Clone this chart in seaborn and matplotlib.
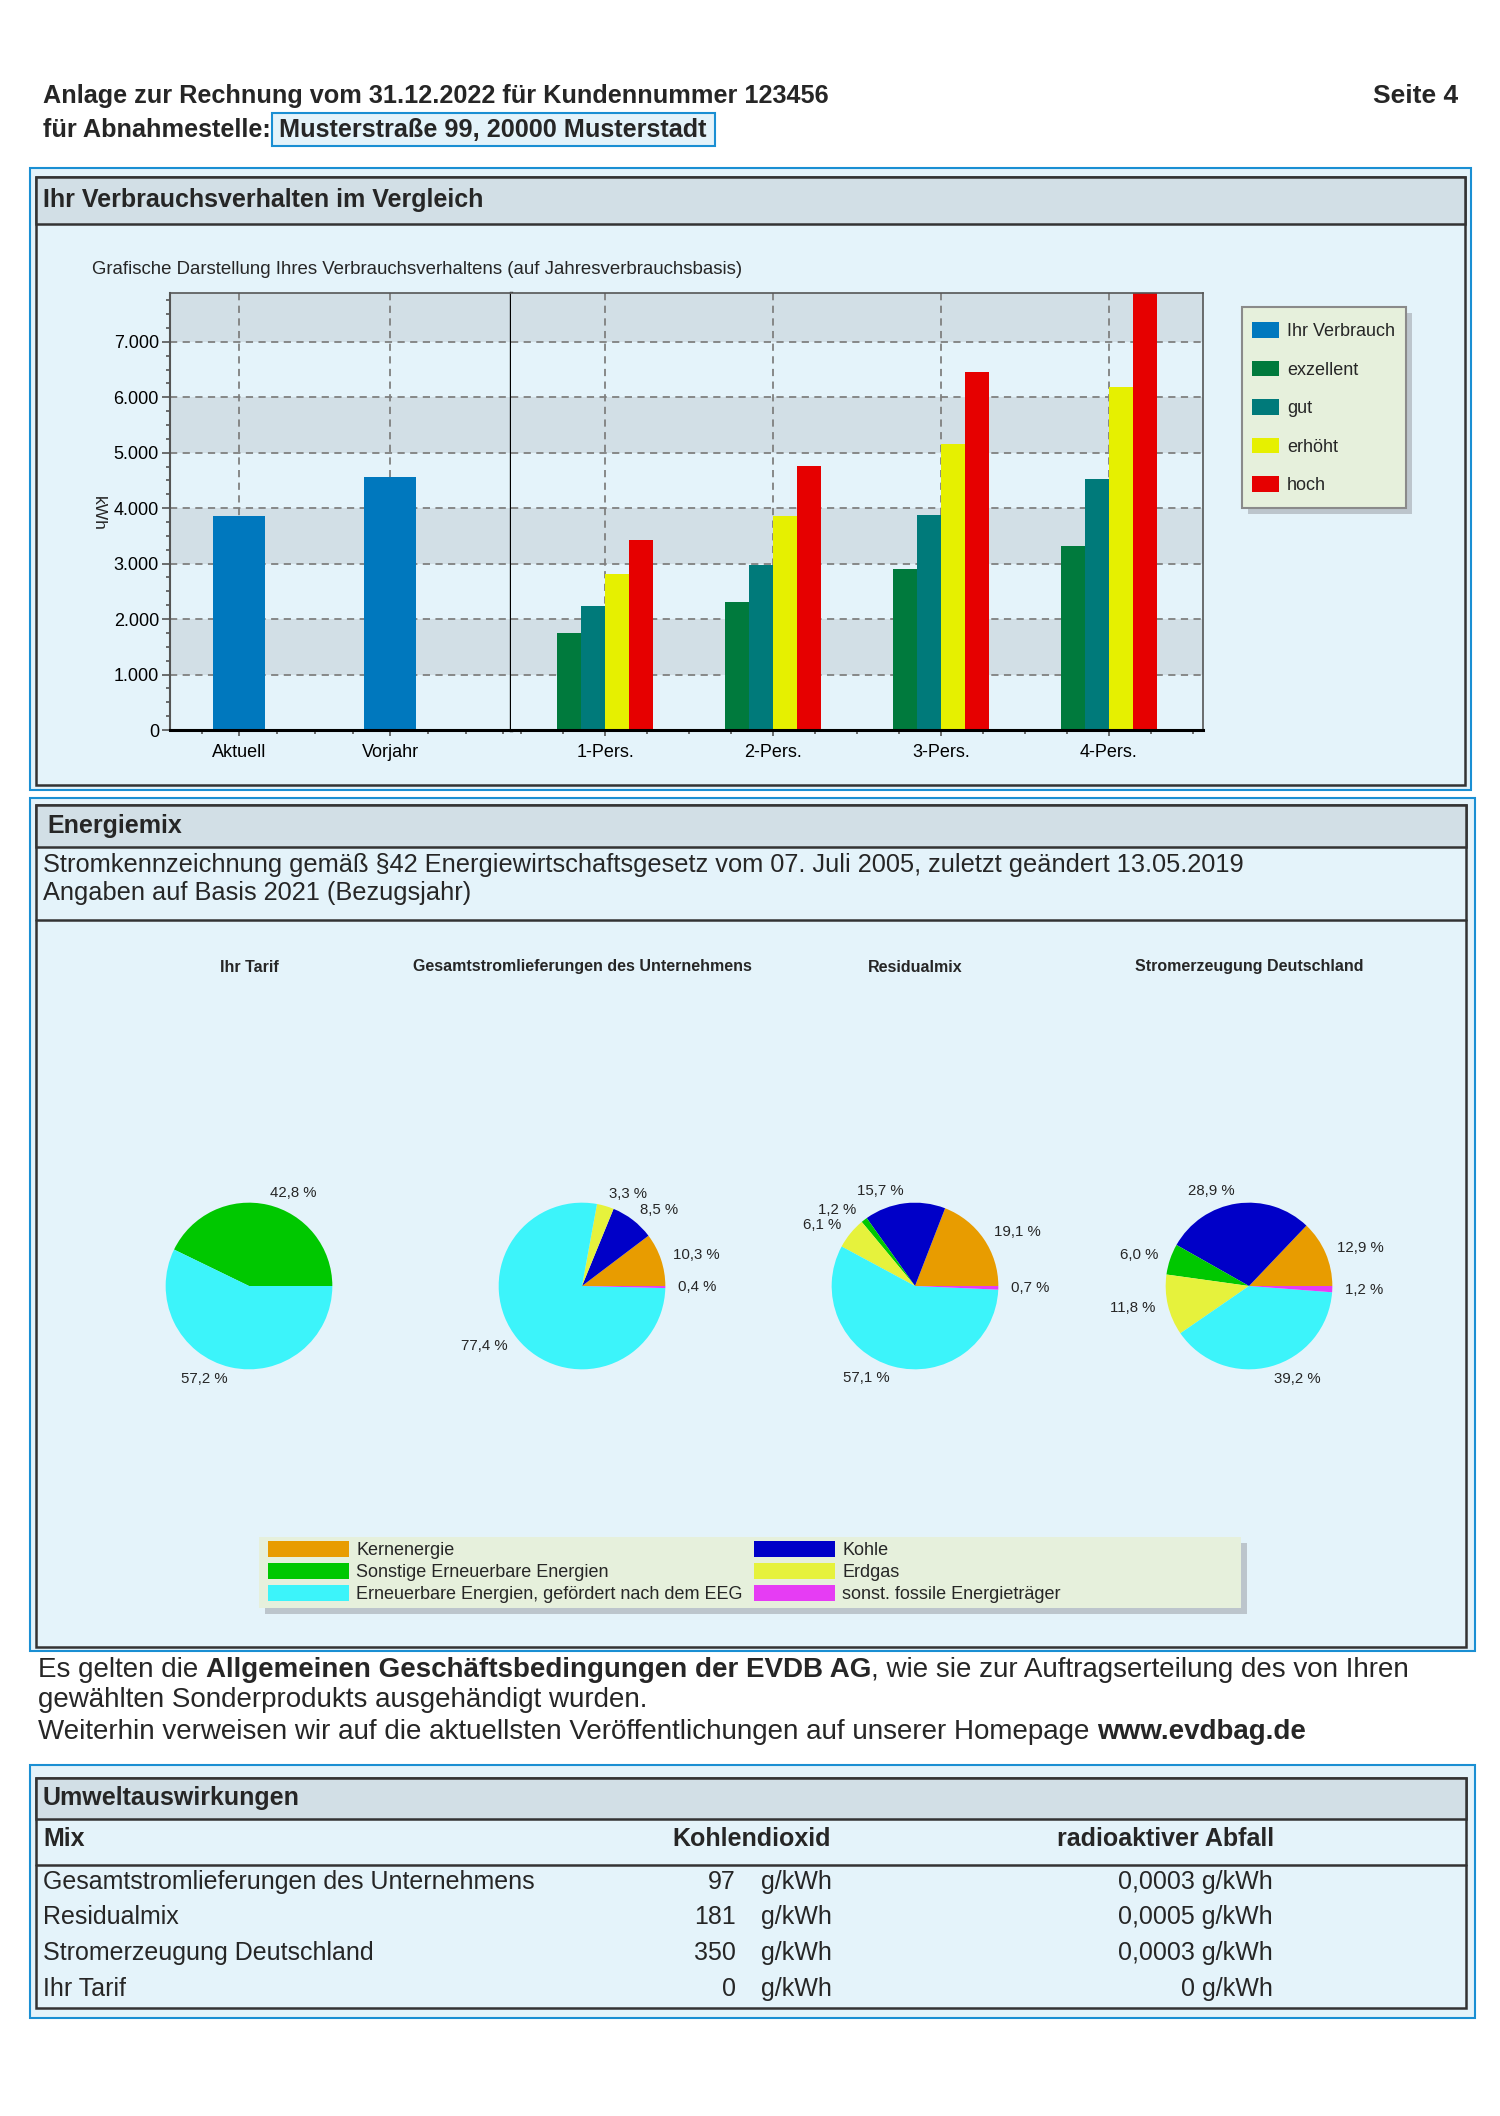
import matplotlib
matplotlib.use("Agg")
import matplotlib.pyplot as plt
from matplotlib.patches import Rectangle, Patch
from matplotlib.ticker import FuncFormatter, MultipleLocator
import seaborn as sns
import pandas as pd

# ---- data ----
own_labels = ["Aktuell", "Vorjahr"]
own_kwh = [3850, 4570]

groups = ["1-Pers.", "2-Pers.", "3-Pers.", "4-Pers."]
levels = ["exzellent", "gut", "erhöht", "hoch"]
exzellent = [1750, 2310, 2900, 3310]
gut = [2240, 2970, 3880, 4520]
erhoeht = [2820, 3850, 5150, 6180]
hoch = [3420, 4760, 6450, 7950]

sources = ["Kernenergie", "Kohle", "Sonstige Erneuerbare Energien", "Erdgas",
           "Erneuerbare Energien, gefördert nach dem EEG", "sonst. fossile Energieträger"]
pie_titles = ["Ihr Tarif", "Gesamtstromlieferungen des Unternehmens", "Residualmix",
              "Stromerzeugung Deutschland"]
tarif = [0, 0, 42.8, 0, 57.2, 0]
gesamt = [10.3, 8.5, 0, 3.3, 77.4, 0.4]
residual = [19.1, 15.7, 1.2, 6.1, 57.1, 0.7]
deutschland = [12.9, 28.9, 6.0, 11.8, 39.2, 1.2]

mix_rows = ["Gesamtstromlieferungen des Unternehmens", "Residualmix",
            "Stromerzeugung Deutschland", "Ihr Tarif"]
co2 = [97, 181, 350, 0]
radioaktiv = ["0,0003", "0,0005", "0,0003", "0"]

# ---- colours ----
bar_colors = {"Ihr Verbrauch": "#0078be", "exzellent": "#007a3d", "gut": "#007a7a",
              "erhöht": "#e6f000", "hoch": "#e60000"}
src_colors = ["#e89c00", "#0000c8", "#00c800", "#e6f23c", "#3cf4fa", "#e63cf4"]
BLUE = "#1a8fd3"
LIGHT = "#e4f3fa"
GREY = "#d2dfe6"
DARK = "#333333"
LEGBG = "#e6f0dc"

sns.set_theme(style="white")
plt.rcParams["font.family"] = ["Liberation Sans", "DejaVu Sans"]

W, H = 1500, 2116
FS = 18


def box(x0, y0, x1, y1):
    return [x0 / W, 1 - y1 / H, (x1 - x0) / W, (y1 - y0) / H]


fig = plt.figure(figsize=(15, 21.16), dpi=100)
fig.patch.set_facecolor("white")
page = fig.add_axes([0, 0, 1, 1])
page.set_xlim(0, W)
page.set_ylim(H, 0)
page.axis("off")


def rect(x0, y0, x1, y1, fc="none", ec="none", lw=0, z=1):
    page.add_patch(Rectangle((x0, y0), x1 - x0, y1 - y0, facecolor=fc,
                             edgecolor=ec, linewidth=lw, zorder=z))


def inline(x, y, parts, size=FS):
    r = fig.canvas.get_renderer()
    for txt, weight in parts:
        t = page.text(x, y, txt, fontsize=size, weight=weight, va="center", ha="left")
        x += t.get_window_extent(r).width


# ---- page header ----
page.text(43, 96, "Anlage zur Rechnung vom 31.12.2022 für Kundennummer 123456",
          fontsize=18.2, weight="bold", va="center")
page.text(1458, 96, "Seite 4", fontsize=19, weight="bold", va="center", ha="right")
page.text(43, 130, "für Abnahmestelle:", fontsize=18.2, weight="bold", va="center")
rect(272, 113, 715, 146, fc=LIGHT, ec=BLUE, lw=1.5)
page.text(279, 130, "Musterstraße 99, 20000 Musterstadt", fontsize=18.2, weight="bold",
          va="center", zorder=3)

# ---- section frames ----
rect(30, 168, 1471, 790, fc=LIGHT, ec=BLUE, lw=1.5)
rect(36, 177, 1465, 785, fc=LIGHT, ec=DARK, lw=1.8)
rect(36, 177, 1465, 224, fc=GREY, ec=DARK, lw=1.8)
page.text(43, 200, "Ihr Verbrauchsverhalten im Vergleich", fontsize=FS, weight="bold",
          va="center", zorder=3)
page.text(92, 269, "Grafische Darstellung Ihres Verbrauchsverhaltens (auf Jahresverbrauchsbasis)",
          fontsize=13.4, va="center", zorder=3)
page.text(98, 513, "kWh", fontsize=12.5, rotation=270, ha="center", va="center", zorder=3)

rect(30, 798, 1475, 1651, fc=LIGHT, ec=BLUE, lw=1.5)
rect(36, 805, 1466, 1647, fc=LIGHT, ec=DARK, lw=1.8)
rect(36, 805, 1466, 847, fc=GREY, ec=DARK, lw=1.8)
page.plot([36, 1466], [920, 920], color=DARK, lw=1.8, zorder=2)
page.text(47, 826, "Energiemix", fontsize=FS, weight="bold", va="center", zorder=3)
page.text(43, 865, "Stromkennzeichnung gemäß §42 Energiewirtschaftsgesetz vom 07. Juli 2005, "
          "zuletzt geändert 13.05.2019", fontsize=18.3, va="center", zorder=3)
page.text(43, 893, "Angaben auf Basis 2021 (Bezugsjahr)", fontsize=18.3, va="center", zorder=3)

rect(30, 1765, 1475, 2018, fc=LIGHT, ec=BLUE, lw=1.5)
rect(36, 1778, 1466, 2008, fc=LIGHT, ec=DARK, lw=1.8)
rect(36, 1778, 1466, 1819, fc=GREY, ec=DARK, lw=1.8)
page.plot([36, 1466], [1865, 1865], color=DARK, lw=1.8, zorder=2)
page.text(43, 1798, "Umweltauswirkungen", fontsize=FS, weight="bold", va="center", zorder=3)

# ---- bar chart ----
ax_l = fig.add_axes(box(170, 293, 511, 730))
ax_r = fig.add_axes(box(511, 293, 1203, 730))

sns.barplot(x=own_labels, y=own_kwh, color=bar_colors["Ihr Verbrauch"], saturation=1,
            width=0.345, errorbar=None, ax=ax_l, linewidth=0)

df = pd.DataFrame({"group": groups * len(levels),
                   "level": [lv for lv in levels for _ in groups],
                   "kwh": exzellent + gut + erhoeht + hoch})
sns.barplot(data=df, x="group", y="kwh", hue="level", order=groups, hue_order=levels,
            palette=[bar_colors[lv] for lv in levels], saturation=1, width=0.57,
            errorbar=None, legend=False, ax=ax_r, linewidth=0)

ax_l.set_xlim(-0.46, 1.80)
ax_r.set_xlim(-0.56, 3.56)
for ax in (ax_l, ax_r):
    ax.set_facecolor(LIGHT)
    ax.set_ylim(0, 7880)
    for lo in (1000, 3000, 5000, 7000):
        ax.axhspan(lo, lo + 1000, color=GREY, lw=0, zorder=0)
    ax.set_axisbelow(True)
    ax.yaxis.set_major_locator(MultipleLocator(1000))
    ax.yaxis.set_minor_locator(MultipleLocator(250))
    ax.xaxis.set_minor_locator(MultipleLocator(0.25))
    ax.grid(True, which="major", color="#808080", linestyle=(0, (4, 3)), linewidth=1.3)
    ax.set_xlabel("")
    ax.set_ylabel("")
    ax.tick_params(axis="x", which="major", bottom=True, length=4, width=1.2, color="#555555",
                   labelsize=13, pad=6, labelcolor="black")
    ax.tick_params(axis="x", which="minor", bottom=True, length=3, width=1.2, color="#555555")
    ax.spines["bottom"].set(color="black", linewidth=2.2)
    ax.spines["top"].set(color="#555555", linewidth=1.2)

ax_l.yaxis.set_major_formatter(FuncFormatter(lambda v, p: f"{int(v):,}".replace(",", ".")))
ax_l.tick_params(axis="y", which="major", left=True, length=6, width=1.2, color="#555555",
                 labelsize=13, pad=2, labelcolor="black")
ax_l.tick_params(axis="y", which="minor", left=True, length=3, width=1.2, color="#555555")
ax_l.spines["left"].set(color="#555555", linewidth=1.5)
ax_l.spines["right"].set(color="black", linewidth=2.4)
ax_r.tick_params(axis="y", which="both", left=False, labelleft=False)
ax_r.spines["left"].set_visible(False)
ax_r.spines["right"].set(color="#555555", linewidth=1.2)

# legend of the bar chart
rect(1248, 313, 1412, 514, fc="#bcc5cc")
rect(1242, 307, 1406, 508, fc=LEGBG, ec="#8a8a8a", lw=1.5, z=2)
bar_keys = ["Ihr Verbrauch"] + levels
fig.legend([Patch(facecolor=bar_colors[k], edgecolor="none") for k in bar_keys], bar_keys,
           loc="upper left", bbox_to_anchor=(1243 / W, 1 - 313 / H), frameon=False,
           borderpad=0, fontsize=13, handlelength=1.5, handleheight=0.95,
           handletextpad=0.45, labelspacing=1.14)

# ---- pies ----
pie_cx = [249, 582, 915, 1249]
pie_cy = 1286
for cx, title, vals in zip(pie_cx, pie_titles, [tarif, gesamt, residual, deutschland]):
    ax = fig.add_axes(box(cx - 150, pie_cy - 150, cx + 150, pie_cy + 150))
    keep = [j for j, v in enumerate(vals) if v > 0]
    ax.pie([vals[j] for j in keep], colors=[src_colors[j] for j in keep],
           labels=[f"{vals[j]:.1f} %".replace(".", ",") for j in keep],
           startangle=0, counterclock=True, labeldistance=1.15,
           textprops={"fontsize": 10.8}, wedgeprops={"linewidth": 0})
    ax.set_xlim(-1.8, 1.8)
    ax.set_ylim(-1.8, 1.8)
    ax.set_aspect("equal")
    ax.patch.set_alpha(0)
    page.text(cx, 967, title, fontsize=11.5, weight="bold", ha="center", va="center", zorder=3)

# legend of the energy mix
rect(265, 1543, 1247, 1614, fc="#bcc5cc", z=2)
rect(259, 1537, 1241, 1608, fc=LEGBG, z=3)
src_handles = [Patch(facecolor=c, edgecolor="none") for c in src_colors]
for cols, x0 in (([0, 2, 4], 259), ([1, 3, 5], 745)):
    fig.legend([src_handles[j] for j in cols], [sources[j] for j in cols],
               loc="upper left", bbox_to_anchor=(x0 / W, 1 - 1532 / H), frameon=False,
               borderpad=0, fontsize=13, handlelength=4.5, handleheight=1.0,
               handletextpad=0.4, labelspacing=0.2)

# ---- paragraph ----
inline(38, 1670, [("Es gelten die ", "normal"),
                  ("Allgemeinen Geschäftsbedingungen der EVDB AG", "bold"),
                  (", wie sie zur Auftragserteilung des von Ihren", "normal")], size=20)
inline(38, 1700, [("gewählten Sonderprodukts ausgehändigt wurden.", "normal")], size=20)
inline(38, 1732, [("Weiterhin verweisen wir auf die aktuellsten Veröffentlichungen auf unserer Homepage ",
                   "normal"), ("www.evdbag.de", "bold")], size=20)

# ---- table ----
page.text(43, 1839, "Mix", fontsize=FS, weight="bold", va="center", zorder=3)
page.text(831, 1839, "Kohlendioxid", fontsize=FS, weight="bold", va="center", ha="right", zorder=3)
page.text(1274, 1839, "radioaktiver Abfall", fontsize=FS, weight="bold", va="center", ha="right",
          zorder=3)
row_y = [1882, 1917, 1953, 1989]
for y, name, c, r in zip(row_y, mix_rows, co2, radioaktiv):
    page.text(43, y, name, fontsize=FS, va="center", zorder=3)
    page.text(736, y, str(c), fontsize=FS, va="center", ha="right", zorder=3)
    page.text(761, y, "g/kWh", fontsize=FS, va="center", zorder=3)
    page.text(1273, y, f"{r} g/kWh", fontsize=FS, va="center", ha="right", zorder=3)

fig.savefig("out.png", dpi=100, facecolor="white")
